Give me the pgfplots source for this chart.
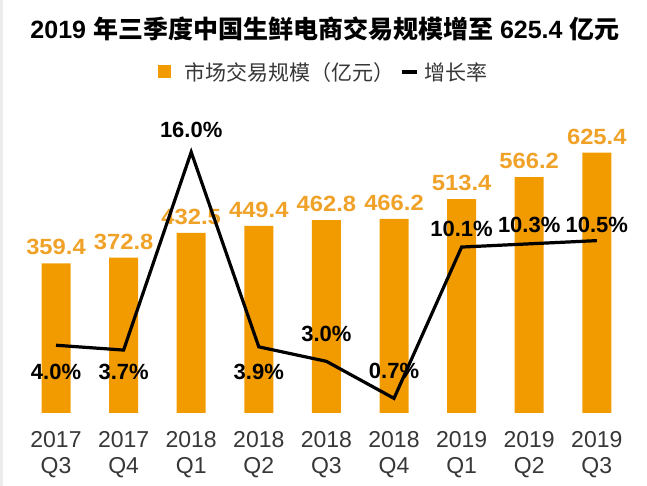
\documentclass[border=0pt]{standalone}
\usepackage{pgfplots}
\pgfplotsset{compat=1.18}
\usepackage{pgfplotstable}
\usepackage{fontspec}
\setmainfont{Liberation Sans}
\newfontfamily\cjk{Noto Sans CJK SC}
\newfontfamily\widesans[FakeStretch=1.08]{Liberation Sans}
\definecolor{barorange}{RGB}{242,155,0}
\definecolor{lblorange}{RGB}{240,162,40}
\definecolor{txtgray}{RGB}{55,55,55}

\pgfplotstableread{
x y lab dy
0 4.0 4.0\% -26.4
1 3.7 3.7\% -21.4
2 16.0 16.0\% 22
3 3.9 3.9\% -24.7
4 3.0 3.0\% 27
5 0.7 0.7\% 27
6 10.1 10.1\% 18
7 10.3 10.3\% 19
8 10.5 10.5\% 15.6
}\growth

\begin{document}
\begin{tikzpicture}
\useasboundingbox (0,0) rectangle (647pt,486pt);
\fill[gray!15] (0,0) rectangle (2.5pt,486pt);
\node[font=\fontsize{25}{25}\selectfont, text=black] at (325pt,457pt)
  {\textbf{2019 }{\cjk\bfseries 年三季度中国生鲜电商交易规模增至}\textbf{ 625.4 }{\cjk\bfseries 亿元}};

\begin{axis}[
  at={(22.2pt,73pt)}, anchor=south west,
  scale only axis, width=608.4pt, height=300pt,
  xmin=-0.5, xmax=8.5, ymin=0, ymax=720.3,
  axis line style={draw=none}, tick style={draw=none},
  ytick=\empty,
  xtick={0,1,2,3,4,5,6,7,8},
  xticklabels={{2017\\Q3},{2017\\Q4},{2018\\Q1},{2018\\Q2},{2018\\Q3},{2018\\Q4},{2019\\Q1},{2019\\Q2},{2019\\Q3}},
  xticklabel style={align=center, font=\fontsize{23}{26}\selectfont, text=txtgray, anchor=north, inner sep=0pt, yshift=-18pt},
  clip=false,
  legend columns=2,
  legend style={draw=none, fill=none, at={(axis description cs:0.496,1.137)}, anchor=center,
    font=\cjk\fontsize{21}{21}\selectfont, text=txtgray,
    /tikz/every even column/.append style={column sep=2pt}},
]
\addplot[ybar, bar width=29pt, fill=barorange, draw=none,
  nodes near coords, point meta=explicit symbolic,
  nodes near coords style={anchor=south, inner sep=0pt, yshift=8pt, font=\widesans\bfseries\fontsize{22}{22}\selectfont, text=lblorange},
  legend image code/.code={\fill[barorange] (0pt,-6.5pt) rectangle (13pt,6.5pt); \path (24pt,0pt);}]
coordinates {(0,359.4) [359.4] (1,372.8) [372.8] (2,432.5) [432.5] (3,449.4) [449.4] (4,462.8) [462.8] (5,466.2) [466.2] (6,513.4) [513.4] (7,566.2) [566.2] (8,625.4) [625.4]};
\addlegendentry{市场交易规模（亿元）}
\addlegendimage{legend image code/.code={\path (-4pt,0pt); \draw[black, line width=4pt] (0pt,0pt) -- (15pt,0pt); \path (20pt,0pt);}}
\addlegendentry{增长率}
\end{axis}

\begin{axis}[
  at={(22.2pt,73pt)}, anchor=south west,
  scale only axis, width=608.4pt, height=300pt,
  xmin=-0.5, xmax=8.5, ymin=-0.21, ymax=18.43,
  hide axis, clip=false]
\addplot[black, line width=3.2pt, line join=miter,
  nodes near coords, point meta=explicit symbolic,
  visualization depends on={\thisrow{dy} \as \dy},
  nodes near coords style={anchor=center, yshift=\dy pt, font=\bfseries\fontsize{22}{22}\selectfont, text=black}]
  table[x=x, y=y, meta=lab] {\growth};
\end{axis}
\end{tikzpicture}
\end{document}
